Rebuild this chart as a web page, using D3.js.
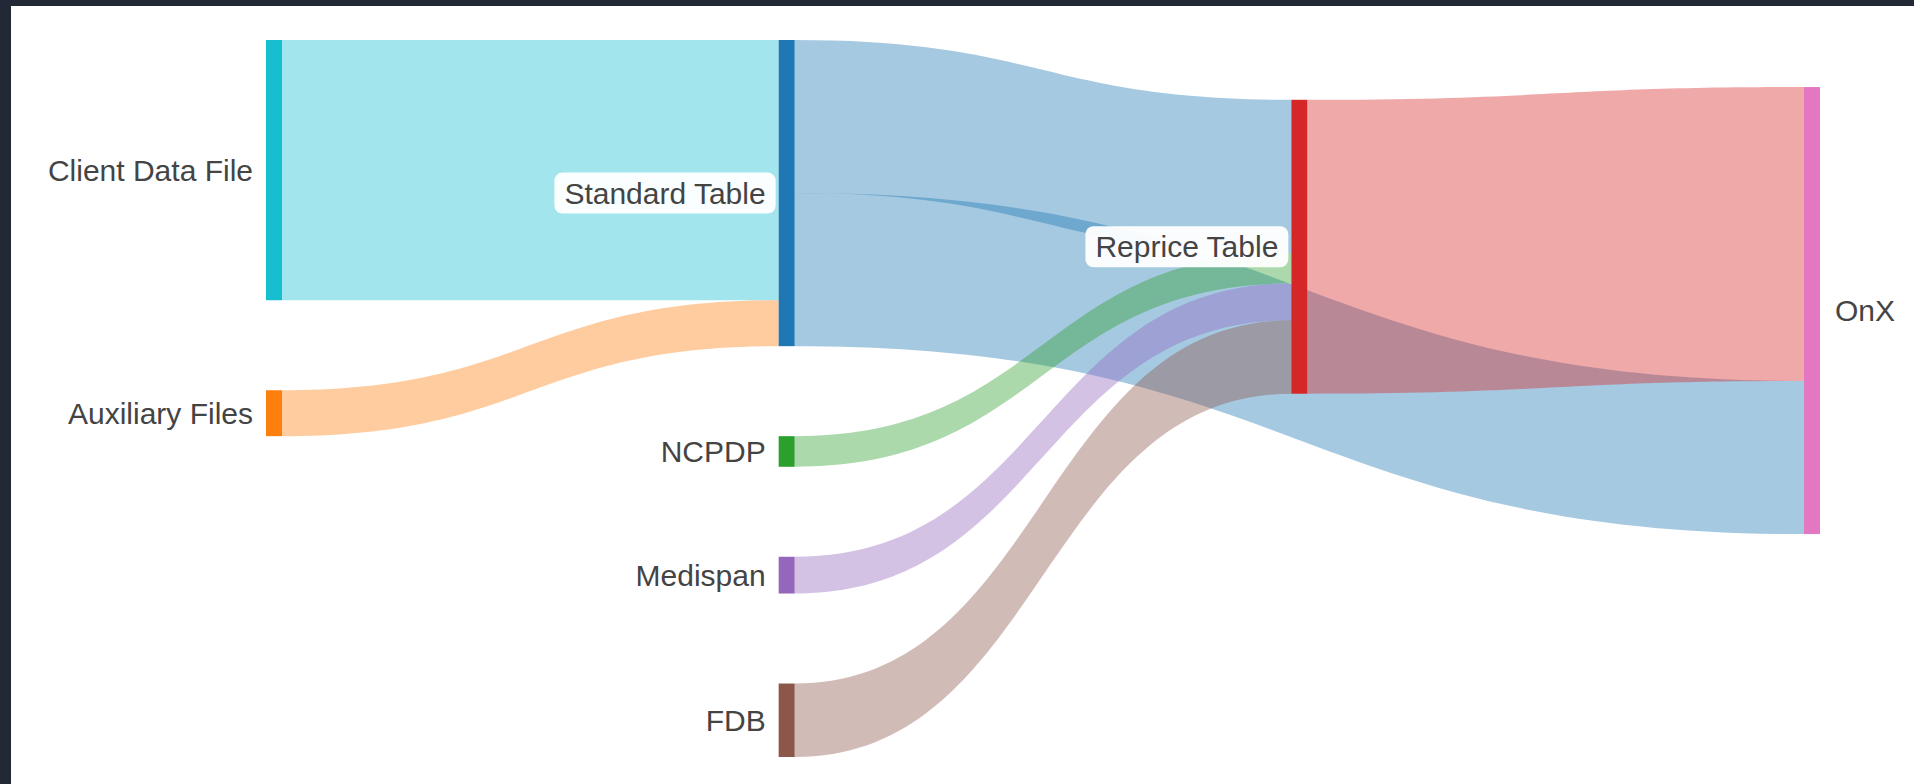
<!DOCTYPE html>
<html>
<head>
<meta charset="utf-8">
<script src="https://cdn.jsdelivr.net/npm/d3@7"></script>
<style>
  html, body { margin: 0; padding: 0; background: #222936; }
  svg { display: block; }
</style>
</head>
<body>
<svg id="chart" width="1914" height="784"></svg>
<script>
// ---------------- data ----------------
const nodeNames = ["Client Data File", "Auxiliary Files", "Standard Table", "NCPDP", "Medispan", "FDB", "Reprice Table", "OnX"];
const linkSources = ["Client Data File", "Auxiliary Files", "Standard Table", "Standard Table", "NCPDP", "Medispan", "FDB", "Reprice Table"];
const linkTargets = ["Standard Table", "Standard Table", "Reprice Table", "OnX", "Reprice Table", "Reprice Table", "Reprice Table", "OnX"];
const linkValues = [85, 15, 50, 50, 10, 12, 24, 96];

// ---------------- styles ----------------
const nodeColor = {
  "Client Data File": "#17becf",
  "Auxiliary Files": "#ff7f0e",
  "Standard Table": "#1f77b4",
  "NCPDP": "#2ca02c",
  "Medispan": "#9467bd",
  "FDB": "#8c564b",
  "Reprice Table": "#d62728",
  "OnX": "#e377c2"
};
const W = 1914, H = 784;
const frame = { left: 11, top: 6, color: "#222936" };
const opt = { x0: 266, x1: 1820, y0: 40, y1: 757, nodeWidth: 16, nodePadding: 90, iterations: 300 };
const linkOpacity = 0.4;
const fontSize = 30;

// ---------------- sankey layout (weighted least-squares link straightening) ----------------
// every node is placed where its ribbons are as level as possible; a ribbon's weight grows
// with its width and shrinks with the number of columns it spans.
function sankeyLayout(names, srcs, tgts, vals, o) {
  const nodes = names.map((name, i) => ({ name, index: i, sourceLinks: [], targetLinks: [] }));
  const byName = new Map(nodes.map(n => [n.name, n]));
  const links = srcs.map((s, i) => ({ source: byName.get(s), target: byName.get(tgts[i]), value: vals[i], index: i }));
  links.forEach(l => { l.source.sourceLinks.push(l); l.target.targetLinks.push(l); });
  nodes.forEach(n => n.value = Math.max(d3.sum(n.sourceLinks, l => l.value), d3.sum(n.targetLinks, l => l.value)));

  nodes.forEach(n => n.depth = 0);
  for (let k = 0; k < nodes.length; k++) {
    links.forEach(l => { if (l.target.depth < l.source.depth + 1) l.target.depth = l.source.depth + 1; });
  }
  nodes.forEach(n => {
    n.layer = n.targetLinks.length ? n.depth
      : (n.sourceLinks.length ? d3.min(n.sourceLinks, l => l.target.depth) - 1 : 0);
  });
  const nCols = d3.max(nodes, n => n.layer) + 1;
  const columns = d3.range(nCols).map(c => nodes.filter(n => n.layer === c));
  columns.forEach(col => col.forEach((n, i) => n.pos = i));

  const xScale = d3.scaleLinear().domain([0, nCols - 1]).range([o.x0, o.x1 - o.nodeWidth]);
  nodes.forEach(n => { n.x0 = xScale(n.layer); n.x1 = n.x0 + o.nodeWidth; });

  const py = o.nodePadding;
  const ky = d3.min(columns, c => (o.y1 - o.y0 - (c.length - 1) * py) / d3.sum(c, n => n.value));
  const vScale = d3.scaleLinear().domain([0, 1]).range([0, ky]);
  nodes.forEach(n => n.h = vScale(n.value));
  links.forEach(l => l.width = vScale(l.value));

  nodes.forEach(n => {
    n.sourceLinks.sort((a, b) => (a.target.layer - b.target.layer) || (a.target.pos - b.target.pos));
    n.targetLinks.sort((a, b) => (b.source.layer - a.source.layer) || (a.source.pos - b.source.pos));
    let s = 0; n.sourceLinks.forEach(l => { l.sOff = s; s += l.width; });
    let t = 0; n.targetLinks.forEach(l => { l.tOff = t; t += l.width; });
  });

  columns.forEach(col => { let y = o.y0; col.forEach(n => { n.y0 = y; y += n.h + py; }); });

  const weight = l => Math.pow(l.value / (l.target.layer - l.source.layer), 2);

  function placeColumn(col) {
    const items = col.map(n => {
      let num = 0, den = 0;
      n.targetLinks.forEach(l => { const w = weight(l); num += w * (l.source.y0 + l.sOff - l.tOff); den += w; });
      n.sourceLinks.forEach(l => { const w = weight(l); num += w * (l.target.y0 + l.tOff - l.sOff); den += w; });
      return { p: den ? num / den : n.y0, w: den || 1e-6 };
    });
    let off = 0;
    const offs = col.map(n => { const v = off; off += n.h + py; return v; });
    const blocks = [];
    items.forEach((it, i) => {
      blocks.push({ sum: it.w * (it.p - offs[i]), w: it.w, start: i, end: i });
      while (blocks.length > 1) {
        const b = blocks[blocks.length - 1], a = blocks[blocks.length - 2];
        if (b.sum / b.w < a.sum / a.w) { a.sum += b.sum; a.w += b.w; a.end = b.end; blocks.pop(); }
        else break;
      }
    });
    const last = col.length - 1;
    const upper = o.y1 - (offs[last] + col[last].h);
    blocks.forEach(b => {
      const q = Math.max(o.y0, Math.min(upper, b.sum / b.w));
      for (let i = b.start; i <= b.end; i++) col[i].y0 = q + offs[i];
    });
  }

  for (let it = 0; it < o.iterations; it++) {
    const order = it % 2 ? d3.range(nCols).reverse() : d3.range(nCols);
    order.forEach(c => placeColumn(columns[c]));
  }
  nodes.forEach(n => n.y1 = n.y0 + n.h);
  links.forEach(l => { l.y0 = l.source.y0 + l.sOff; l.y1 = l.target.y0 + l.tOff; });
  return { nodes, links, nCols };
}

const graph = sankeyLayout(nodeNames, linkSources, linkTargets, linkValues, opt);

// ---------------- draw ----------------
const svg = d3.select("#chart");
svg.append("rect").attr("x", 0).attr("y", 0).attr("width", W).attr("height", H).attr("fill", frame.color);
svg.append("rect").attr("x", frame.left).attr("y", frame.top)
  .attr("width", W - frame.left).attr("height", H - frame.top).attr("fill", "#ffffff");

function ribbon(l) {
  const x0 = l.source.x1, x1 = l.target.x0;
  const xc = d3.interpolateNumber(x0, x1)(0.5);
  const p = d3.path();
  p.moveTo(x0, l.y0);
  p.bezierCurveTo(xc, l.y0, xc, l.y1, x1, l.y1);
  p.lineTo(x1, l.y1 + l.width);
  p.bezierCurveTo(xc, l.y1 + l.width, xc, l.y0 + l.width, x0, l.y0 + l.width);
  p.closePath();
  return p.toString();
}

svg.append("g").attr("class", "links")
  .selectAll("path").data(graph.links).join("path")
  .attr("d", ribbon)
  .attr("fill", d => nodeColor[d.source.name])
  .attr("fill-opacity", linkOpacity);

svg.append("g").attr("class", "nodes")
  .selectAll("rect").data(graph.nodes).join("rect")
  .attr("x", d => d.x0).attr("y", d => d.y0)
  .attr("width", d => d.x1 - d.x0).attr("height", d => d.y1 - d.y0)
  .attr("fill", d => nodeColor[d.name]);

const labels = svg.append("g").attr("class", "labels")
  .selectAll("g").data(graph.nodes).join("g");

labels.append("rect").attr("class", "bg");
labels.append("text")
  .attr("x", d => d.layer === graph.nCols - 1 ? d.x1 + 15 : d.x0 - 13)
  .attr("y", d => (d.y0 + d.y1) / 2)
  .attr("dy", "0.35em")
  .attr("text-anchor", d => d.layer === graph.nCols - 1 ? "start" : "end")
  .attr("font-family", "'Liberation Sans', Arial, Helvetica, sans-serif")
  .attr("font-size", fontSize)
  .attr("fill", "#444444")
  .text(d => d.name);

labels.each(function () {
  const g = d3.select(this);
  const bb = g.select("text").node().getBBox();
  g.select("rect.bg")
    .attr("x", bb.x - 10).attr("y", bb.y - 4)
    .attr("width", bb.width + 20).attr("height", bb.height + 8)
    .attr("rx", 8).attr("ry", 8)
    .attr("fill", "#ffffff").attr("fill-opacity", 0.95);
});
</script>
</body>
</html>
